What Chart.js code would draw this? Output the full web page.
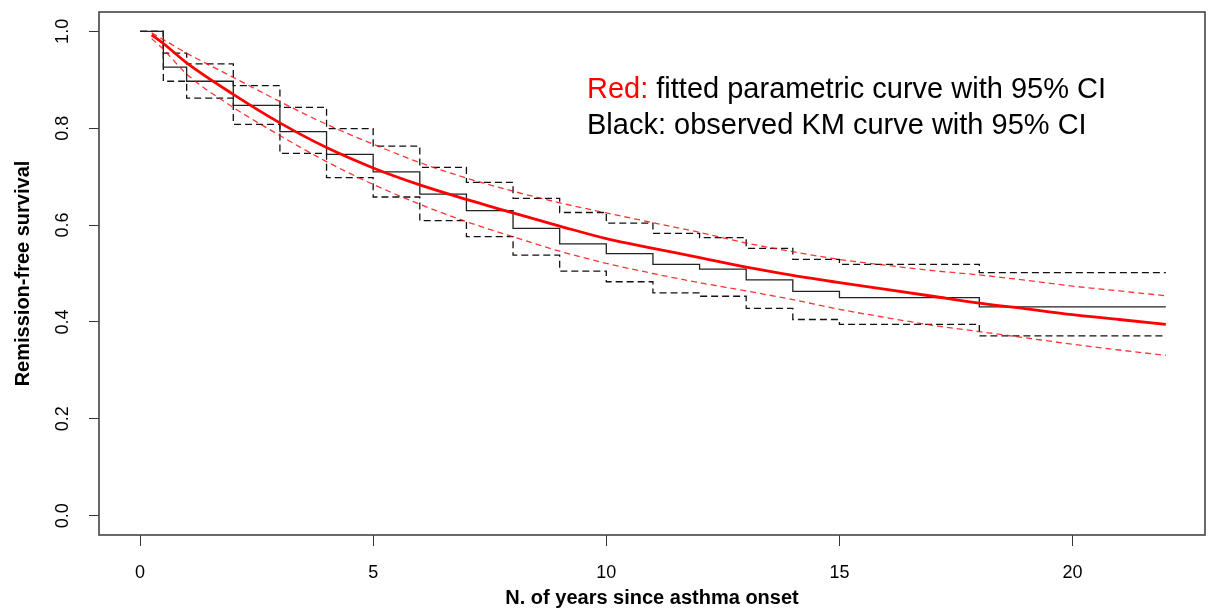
<!DOCTYPE html>
<html>
<head>
<meta charset="utf-8">
<script src="https://cdn.jsdelivr.net/npm/chart.js@4.4.0/dist/chart.umd.min.js"></script>
<style>
  html, body { margin: 0; padding: 0; background: #fff; }
</style>
</head>
<body>
<canvas id="km" width="1208" height="611"></canvas>
<script>
// observed Kaplan-Meier curve (step times) with 95% CI
var kmTime  = [0, 0.5, 1, 2, 3, 4, 5, 6, 7, 8, 9, 10, 11, 12, 13, 14, 15, 18];
var kmSurv  = [1, 0.926, 0.897, 0.847, 0.793, 0.746, 0.710, 0.664, 0.630, 0.593, 0.561, 0.541, 0.519, 0.509, 0.487, 0.463, 0.450, 0.431];
var kmUpper = [1, 0.955, 0.933, 0.888, 0.843, 0.799, 0.763, 0.719, 0.688, 0.655, 0.626, 0.604, 0.583, 0.574, 0.552, 0.529, 0.519, 0.502];
var kmLower = [1, 0.897, 0.862, 0.808, 0.748, 0.698, 0.658, 0.609, 0.576, 0.538, 0.505, 0.483, 0.460, 0.453, 0.428, 0.405, 0.395, 0.371];
var followUpEnd = 22;

// fitted parametric curve with 95% CI
var fitTime  = [0.25, 0.5, 1, 2, 3, 4, 5, 6, 7, 8, 9, 10, 11, 12, 13, 14, 15, 16, 17, 18, 19, 20, 21, 22];
var fitSurv  = [0.993, 0.975, 0.935, 0.870, 0.811, 0.760, 0.718, 0.683, 0.653, 0.625, 0.598, 0.572, 0.552, 0.533, 0.513, 0.496, 0.481, 0.467, 0.453, 0.439, 0.427, 0.415, 0.405, 0.395];
var fitUpper = [0.997, 0.983, 0.955, 0.905, 0.855, 0.808, 0.767, 0.729, 0.697, 0.670, 0.646, 0.625, 0.605, 0.585, 0.563, 0.545, 0.529, 0.517, 0.506, 0.497, 0.486, 0.474, 0.464, 0.454];
var fitLower = [0.985, 0.963, 0.912, 0.843, 0.785, 0.731, 0.684, 0.643, 0.607, 0.576, 0.546, 0.521, 0.500, 0.481, 0.464, 0.446, 0.426, 0.409, 0.393, 0.380, 0.367, 0.354, 0.342, 0.331];

var xTicks = [0, 5, 10, 15, 20];
var yTicks = [0, 0.2, 0.4, 0.6, 0.8, 1.0];

var FONT = "'Liberation Sans', Arial, sans-serif";
Chart.defaults.font.family = FONT;
Chart.defaults.color = '#000';

function pts(xs, ys) {
  return xs.map(function (x, i) { return { x: x, y: ys[i] }; });
}
// KM steps run on to the end of follow-up
function steps(ys) {
  var d = pts(kmTime, ys);
  d.push({ x: followUpEnd, y: ys[ys.length - 1] });
  return d;
}

function redLine(data, dashed) {
  return {
    data: data,
    borderColor: dashed ? 'rgba(255,0,0,0.8)' : '#ff0000',
    borderWidth: dashed ? 1.3 : 2.8,
    borderDash: dashed ? [6, 4] : [],
    cubicInterpolationMode: 'monotone',
    pointRadius: 0,
    fill: false
  };
}
function kmLine(data, dashed) {
  return {
    data: data,
    borderColor: dashed ? '#111' : '#222',
    borderWidth: 1.3,
    borderDash: dashed ? [7, 4] : [],
    stepped: 'before',   // horizontal first, then drop at the event time
    pointRadius: 0,
    fill: false
  };
}

// box round the plot region, like R's box()
var boxPlugin = {
  id: 'box',
  beforeDatasetsDraw: function (chart) {
    var a = chart.chartArea, ctx = chart.ctx;
    ctx.save();
    ctx.strokeStyle = '#444';
    ctx.lineWidth = 1.6;
    ctx.strokeRect(a.left, a.top, a.right - a.left, a.bottom - a.top);
    ctx.restore();
  }
};

var notePlugin = {
  id: 'note',
  afterDraw: function (chart) {
    var ctx = chart.ctx;
    ctx.save();
    ctx.font = '29px ' + FONT;
    ctx.textBaseline = 'alphabetic';
    ctx.textAlign = 'left';
    ctx.fillStyle = '#ff0000';
    ctx.fillText('Red:', 587, 98);
    var w = ctx.measureText('Red: ').width;
    ctx.fillStyle = '#000';
    ctx.fillText('fitted parametric curve with 95% CI', 587 + w, 98);
    ctx.fillText('Black: observed KM curve with 95% CI', 587, 134);
    ctx.restore();
  }
};

new Chart(document.getElementById('km'), {
  type: 'line',
  data: {
    datasets: [
      redLine(pts(fitTime, fitSurv), false),
      redLine(pts(fitTime, fitUpper), true),
      redLine(pts(fitTime, fitLower), true),
      kmLine(steps(kmSurv), false),
      kmLine(steps(kmUpper), true),
      kmLine(steps(kmLower), true)
    ]
  },
  options: {
    responsive: false,
    animation: false,
    layout: { padding: { left: 0, right: 3, top: 12, bottom: 0 } },
    plugins: { legend: { display: false }, tooltip: { enabled: false } },
    scales: {
      x: {
        type: 'linear',
        min: -0.88,
        max: 22.84,
        afterBuildTicks: function (s) { s.ticks = xTicks.map(function (v) { return { value: v }; }); },
        afterFit: function (s) { s.height = 76; s.paddingLeft = 0; s.paddingRight = 0; },
        grid: { drawOnChartArea: false, drawTicks: true, tickLength: 11, color: '#333', lineWidth: 1 },
        border: { display: false },
        ticks: { font: { size: 18 }, color: '#000', padding: 16, maxRotation: 0, autoSkip: false },
        title: {
          display: true,
          text: 'N. of years since asthma onset',
          font: { size: 20, weight: 'bold' },
          color: '#000',
          padding: { top: 0, bottom: 1 }
        }
      },
      y: {
        type: 'linear',
        min: -0.04,
        max: 1.04,
        afterBuildTicks: function (s) { s.ticks = yTicks.map(function (v) { return { value: v }; }); },
        afterFit: function (s) { s.width = 99; s.paddingTop = 0; s.paddingBottom = 0; },
        grid: { drawOnChartArea: false, drawTicks: true, tickLength: 10, color: '#333', lineWidth: 1 },
        border: { display: false },
        ticks: {
          font: { size: 18 }, color: '#000', padding: 13,
          minRotation: 90, maxRotation: 90, crossAlign: 'center', autoSkip: false,
          callback: function (v) { return v.toFixed(1); }
        },
        title: {
          display: true,
          text: 'Remission-free survival',
          font: { size: 20, weight: 'bold' },
          color: '#000',
          padding: { top: 11, bottom: 0 }
        }
      }
    }
  },
  plugins: [boxPlugin, notePlugin]
});
</script>
</body>
</html>
